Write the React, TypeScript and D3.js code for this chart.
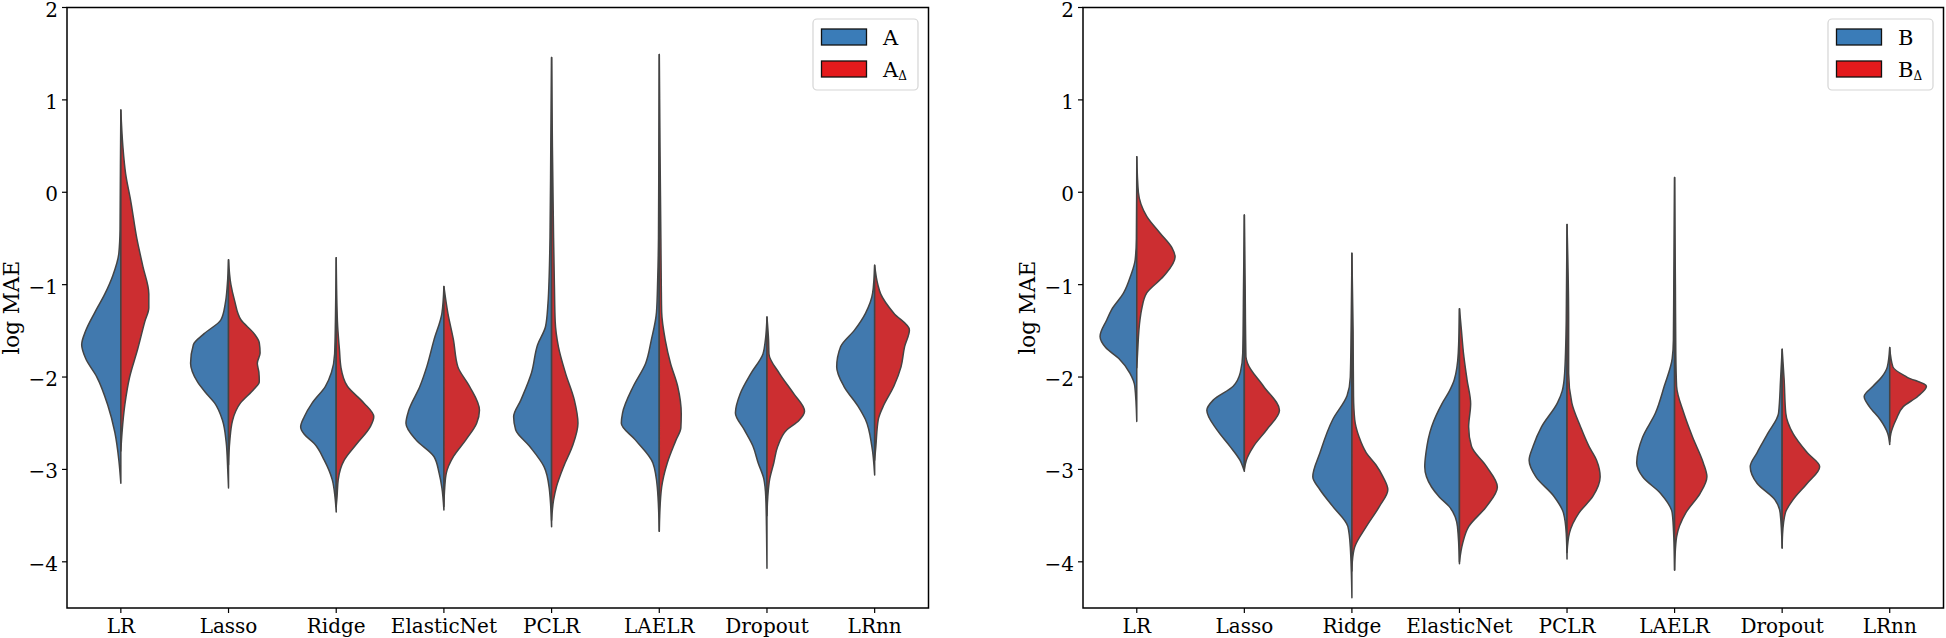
import React from 'react';
import * as d3 from 'd3';

// ---------- data ----------
const categories = ['LR', 'Lasso', 'Ridge', 'ElasticNet', 'PCLR', 'LAELR', 'Dropout', 'LRnn'];
const yTicks = [2, 1, 0, -1, -2, -3, -4];
const yDomain: [number, number] = [-4.5, 2];

type Prof = [number, number][]; // [log MAE value, relative density 0..100]

// Panel 1, series A (left halves)
const A_profiles: Prof[] = [
  [[0.89, 0], [0.3, 1], [-0.4, 2], [-0.66, 5], [-0.9, 20], [-1.1, 40], [-1.3, 65], [-1.5, 88], [-1.65, 98], [-1.8, 88], [-2.0, 60], [-2.3, 33], [-2.6, 15], [-2.9, 5], [-3.15, 0]],
  [[-0.73, 0], [-1.0, 3], [-1.2, 8], [-1.38, 19], [-1.53, 61], [-1.65, 88], [-1.85, 95], [-2.05, 78], [-2.18, 55], [-2.28, 35], [-2.47, 15], [-2.7, 6], [-3.0, 2], [-3.2, 0]],
  [[-0.71, 0], [-1.4, 2], [-1.75, 4], [-1.95, 12], [-2.1, 27], [-2.28, 60], [-2.43, 80], [-2.54, 89], [-2.62, 80], [-2.72, 55], [-2.9, 30], [-3.11, 10], [-3.3, 3], [-3.46, 0]],
  [[-1.02, 0], [-1.31, 5], [-1.6, 25], [-1.89, 43], [-2.1, 60], [-2.36, 88], [-2.5, 95], [-2.68, 70], [-2.86, 25], [-3.04, 12], [-3.2, 5], [-3.44, 0]],
  [[1.46, 0], [0.5, 2], [-0.5, 4], [-0.9, 6], [-1.2, 9], [-1.45, 15], [-1.65, 35], [-1.95, 50], [-2.25, 77], [-2.43, 95], [-2.57, 90], [-2.75, 55], [-2.97, 19], [-3.2, 6], [-3.62, 0]],
  [[1.49, 0], [0.5, 1], [-0.5, 2], [-0.95, 4], [-1.3, 7], [-1.6, 20], [-1.85, 34], [-2.1, 65], [-2.39, 92], [-2.5, 95], [-2.68, 60], [-2.93, 16], [-3.19, 5], [-3.67, 0]],
  [[-1.35, 0], [-1.6, 4], [-1.75, 10], [-1.96, 40], [-2.18, 67], [-2.39, 79], [-2.57, 57], [-2.75, 35], [-2.93, 22], [-3.1, 8], [-3.3, 3], [-3.7, 1], [-4.07, 0]],
  [[-0.79, 0], [-1.09, 5], [-1.31, 23], [-1.49, 50], [-1.67, 85], [-1.89, 95], [-2.1, 77], [-2.32, 41], [-2.46, 23], [-2.75, 7], [-3.06, 0]],
];

// Panel 1, series A_Δ (right halves)
const ADelta_profiles: Prof[] = [
  [[0.89, 0], [0.5, 5], [0.2, 12], [-0.1, 25], [-0.5, 40], [-0.8, 55], [-1.1, 70], [-1.25, 70], [-1.4, 60], [-1.7, 42], [-2.0, 22], [-2.3, 10], [-2.6, 3], [-2.8, 0]],
  [[-0.73, 0], [-1.0, 6], [-1.17, 15], [-1.38, 31], [-1.53, 64], [-1.63, 77], [-1.74, 79], [-1.85, 72], [-1.95, 76], [-2.05, 77], [-2.13, 64], [-2.28, 30], [-2.47, 10], [-2.7, 3], [-2.95, 0]],
  [[-0.71, 0], [-1.4, 3], [-1.7, 8], [-1.9, 12], [-2.1, 28], [-2.28, 69], [-2.43, 94], [-2.54, 85], [-2.72, 52], [-2.9, 20], [-3.11, 5], [-3.3, 2], [-3.4, 0]],
  [[-1.02, 0], [-1.31, 10], [-1.6, 24], [-1.89, 35], [-2.1, 64], [-2.36, 89], [-2.5, 82], [-2.68, 55], [-2.86, 24], [-3.04, 6], [-3.2, 2], [-3.4, 0]],
  [[1.46, 0], [0.5, 2], [-0.5, 5], [-1.0, 7], [-1.4, 9], [-1.67, 17], [-1.96, 35], [-2.25, 57], [-2.5, 66], [-2.75, 52], [-2.97, 30], [-3.19, 12], [-3.33, 5], [-3.55, 0]],
  [[1.49, 0], [0.4, 2], [-0.5, 4], [-1.0, 5], [-1.3, 6], [-1.6, 15], [-1.85, 28], [-2.1, 46], [-2.4, 55], [-2.55, 54], [-2.68, 42], [-2.93, 20], [-3.19, 6], [-3.5, 1], [-3.67, 0]],
  [[-1.35, 0], [-1.6, 4], [-1.75, 5], [-1.96, 31], [-2.18, 67], [-2.37, 94], [-2.47, 80], [-2.57, 50], [-2.75, 27], [-2.93, 17], [-3.1, 7], [-3.3, 2], [-3.5, 0]],
  [[-0.79, 0], [-1.0, 8], [-1.1, 15], [-1.31, 48], [-1.49, 87], [-1.67, 75], [-1.89, 66], [-2.1, 48], [-2.32, 21], [-2.46, 9], [-2.75, 3], [-2.9, 0]],
];

// Panel 2, series B (left halves)
const B_profiles: Prof[] = [
  [[0.385, 0], [-0.5, 1], [-0.73, 4], [-0.9, 15], [-1.09, 33], [-1.27, 63], [-1.38, 75], [-1.56, 92], [-1.68, 78], [-1.8, 45], [-1.96, 17], [-2.1, 5], [-2.48, 0]],
  [[-0.245, 0], [-1.0, 2], [-1.74, 4], [-1.95, 10], [-2.1, 28], [-2.25, 78], [-2.36, 94], [-2.57, 69], [-2.75, 36], [-2.9, 11], [-3.02, 0]],
  [[-0.66, 0], [-1.5, 2], [-2.0, 4], [-2.2, 12], [-2.46, 48], [-2.82, 80], [-3.08, 98], [-3.22, 80], [-3.4, 48], [-3.62, 10], [-3.84, 4], [-4.39, 0]],
  [[-1.26, 0], [-1.74, 3], [-2.03, 13], [-2.15, 25], [-2.29, 44], [-2.54, 70], [-2.82, 84], [-2.97, 87], [-3.19, 70], [-3.3, 50], [-3.4, 26], [-3.62, 5], [-4.02, 0]],
  [[-0.35, 0], [-1.4, 2], [-1.96, 6], [-2.15, 12], [-2.28, 24], [-2.54, 64], [-2.75, 85], [-2.9, 95], [-3.08, 78], [-3.29, 33], [-3.47, 9], [-3.69, 2], [-3.97, 0]],
  [[0.16, 0], [-1.0, 2], [-1.6, 3], [-1.8, 6], [-2.1, 26], [-2.39, 48], [-2.65, 80], [-2.93, 95], [-3.08, 80], [-3.26, 35], [-3.47, 6], [-3.73, 2], [-4.09, 0]],
  [[-1.7, 0], [-2.03, 4], [-2.39, 9], [-2.61, 36], [-2.82, 63], [-2.97, 80], [-3.15, 63], [-3.33, 18], [-3.47, 5], [-3.85, 0]],
  [[-1.68, 0], [-1.89, 6], [-2.0, 20], [-2.1, 42], [-2.21, 64], [-2.32, 51], [-2.46, 24], [-2.61, 5], [-2.73, 0]],
];

// Panel 2, series B_Δ (right halves)
const BDelta_profiles: Prof[] = [
  [[0.385, 0], [0.0, 4], [-0.26, 25], [-0.44, 58], [-0.6, 88], [-0.7, 96], [-0.91, 67], [-1.09, 25], [-1.27, 12], [-1.38, 8], [-1.74, 2], [-1.9, 0]],
  [[-0.245, 0], [-1.0, 2], [-1.78, 4], [-1.85, 8], [-2.1, 48], [-2.36, 88], [-2.57, 56], [-2.75, 23], [-2.9, 5], [-3.0, 0]],
  [[-0.66, 0], [-1.5, 3], [-2.2, 4], [-2.46, 7], [-2.65, 18], [-2.82, 36], [-2.95, 60], [-3.08, 78], [-3.22, 90], [-3.4, 69], [-3.62, 36], [-3.84, 7], [-4.0, 1], [-4.1, 0]],
  [[-1.26, 0], [-1.5, 5], [-1.74, 10], [-2.03, 19], [-2.29, 28], [-2.54, 23], [-2.75, 30], [-2.97, 68], [-3.19, 95], [-3.4, 68], [-3.62, 23], [-3.8, 8], [-4.0, 0]],
  [[-0.35, 0], [-1.38, 4], [-1.96, 4], [-2.28, 12], [-2.54, 34], [-2.75, 55], [-2.9, 74], [-3.08, 83], [-3.29, 65], [-3.47, 30], [-3.69, 6], [-3.9, 0]],
  [[0.16, 0], [-1.0, 2], [-1.74, 3], [-2.1, 5], [-2.39, 23], [-2.65, 45], [-2.93, 72], [-3.08, 81], [-3.26, 64], [-3.47, 28], [-3.73, 5], [-3.95, 1], [-4.09, 0]],
  [[-1.7, 0], [-2.03, 5], [-2.39, 9], [-2.61, 27], [-2.82, 63], [-2.97, 94], [-3.15, 63], [-3.33, 27], [-3.47, 8], [-3.7, 1], [-3.85, 0]],
  [[-1.68, 0], [-1.89, 8], [-2.0, 43], [-2.1, 92], [-2.21, 70], [-2.32, 34], [-2.46, 16], [-2.61, 3], [-2.7, 0]],
];

// ---------- styling ----------
const W = 1946;
const H = 638;
const FONT = '"DejaVu Serif", serif';
const FS = 20;
const BLUE = '#4179ae';
const RED = '#cc2e31';
const EDGE = '#444444';
const LEG_BLUE = '#3a7cb8';
const LEG_RED = '#e41a1c';

type PanelProps = {
  left: number;
  right: number;
  top: number;
  bottom: number;
  base: Prof[];
  delta: Prof[];
  label: string;
};

function Panel({ left, right, top, bottom, base, delta, label }: PanelProps) {
  const x = d3.scaleBand<string>().domain(categories).range([left, right]).padding(0);
  const step = x.step();
  const y = d3.scaleLinear().domain(yDomain).range([bottom, top]);
  const w = d3.scaleLinear().domain([0, 100]).range([0, 0.371 * step]);
  const cx = (c: string) => (x(c) as number) + step / 2;

  const halfPath = (c: string, prof: Prof, sign: number) => {
    const c0 = cx(c);
    const gen = d3
      .area<[number, number]>()
      .y((p) => y(p[0]))
      .x0(() => c0)
      .x1((p) => c0 + sign * w(p[1]))
      .curve(d3.curveMonotoneY);
    return gen(prof) || '';
  };

  const boxW = 105;
  const boxH = 71;
  const boxX = right - 10.5 - boxW;
  const boxY = top + 11.5;

  return (
    <g>
      {categories.map((c, i) => (
        <g key={c}>
          <path d={halfPath(c, base[i], -1)} fill={BLUE} stroke={EDGE} strokeWidth={1.5} strokeLinejoin="round" />
          <path d={halfPath(c, delta[i], 1)} fill={RED} stroke={EDGE} strokeWidth={1.5} strokeLinejoin="round" />
        </g>
      ))}
      {/* spines */}
      <rect x={left} y={top} width={right - left} height={bottom - top} fill="none" stroke="#000" strokeWidth={1.5} />
      {/* y ticks */}
      {yTicks.map((t) => (
        <g key={t}>
          <line x1={left - 5} x2={left} y1={y(t)} y2={y(t)} stroke="#000" strokeWidth={1.2} />
          <text x={left - 9} y={y(t) + 1.8} dy="0.36em" textAnchor="end" fontFamily={FONT} fontSize={FS} fill="#000">
            {t < 0 ? '\u2212' + Math.abs(t) : String(t)}
          </text>
        </g>
      ))}
      {/* x ticks */}
      {categories.map((c) => (
        <g key={'x' + c}>
          <line x1={cx(c)} x2={cx(c)} y1={bottom} y2={bottom + 5} stroke="#000" strokeWidth={1.2} />
          <text x={cx(c)} y={bottom + 25} textAnchor="middle" fontFamily={FONT} fontSize={FS} fill="#000">
            {c}
          </text>
        </g>
      ))}
      {/* y label */}
      <text
        transform={`translate(${left - 48},${(top + bottom) / 2}) rotate(-90)`}
        textAnchor="middle"
        fontFamily={FONT}
        fontSize={21.5}
        fill="#000"
      >
        log MAE
      </text>
      {/* legend */}
      <g>
        <rect x={boxX} y={boxY} width={boxW} height={boxH} rx={4} ry={4} fill="#fff" fillOpacity={0.85} stroke="#d5d5d5" strokeWidth={1.2} />
        <rect x={boxX + 8.5} y={boxY + 10} width={45} height={16} fill={LEG_BLUE} stroke="#111" strokeWidth={1.3} />
        <rect x={boxX + 8.5} y={boxY + 42} width={45} height={16} fill={LEG_RED} stroke="#111" strokeWidth={1.3} />
        <text x={boxX + 70} y={boxY + 26} fontFamily={FONT} fontSize={21} fill="#000">
          {label}
        </text>
        <text x={boxX + 70} y={boxY + 58} fontFamily={FONT} fontSize={21} fill="#000">
          {label}
          <tspan fontSize={12} dy={3}>
            {'\u0394'}
          </tspan>
        </text>
      </g>
    </g>
  );
}

export default function App() {
  const top = 7.5;
  const bottom = 608;
  return (
    <svg
      width={W}
      height={H}
      viewBox={`0 0 ${W} ${H}`}
      style={{ position: 'absolute', left: 0, top: 0, background: '#fff' }}
    >
      <rect x={0} y={0} width={W} height={H} fill="#fff" />
      <Panel left={67} right={928.5} top={top} bottom={bottom} base={A_profiles} delta={ADelta_profiles} label="A" />
      <Panel left={1083} right={1943.5} top={top} bottom={bottom} base={B_profiles} delta={BDelta_profiles} label="B" />
    </svg>
  );
}
